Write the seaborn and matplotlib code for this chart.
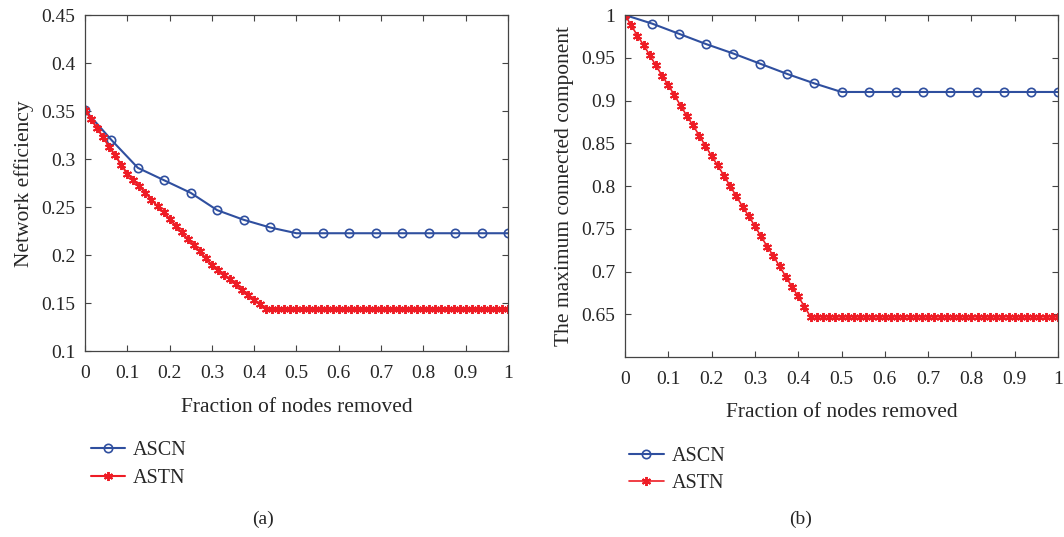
import numpy as np
import matplotlib
matplotlib.use("Agg")
import matplotlib.pyplot as plt
import seaborn as sns

# removal fractions
frac_ascn = np.linspace(0, 1, 17)
frac_astn = np.linspace(0, 1, 71)

# (a) network efficiency
eff_ascn = [0.351, 0.320, 0.291, 0.278, 0.265, 0.247, 0.237, 0.229, 0.223,
            0.223, 0.223, 0.223, 0.223, 0.223, 0.223, 0.223, 0.223]
eff_astn = [0.351, 0.342, 0.332, 0.323, 0.313, 0.304, 0.294, 0.285, 0.278, 0.272,
            0.265, 0.258, 0.251, 0.245, 0.238, 0.231, 0.224, 0.217, 0.211, 0.204,
            0.197, 0.190, 0.185, 0.180, 0.175, 0.170, 0.164, 0.159, 0.154, 0.149,
            0.144, 0.144, 0.144, 0.144, 0.144, 0.144, 0.144, 0.144, 0.144, 0.144,
            0.144, 0.144, 0.144, 0.144, 0.144, 0.144, 0.144, 0.144, 0.144, 0.144,
            0.144, 0.144, 0.144, 0.144, 0.144, 0.144, 0.144, 0.144, 0.144, 0.144,
            0.144, 0.144, 0.144, 0.144, 0.144, 0.144, 0.144, 0.144, 0.144, 0.144,
            0.144]

# (b) maximum connected component
mcc_ascn = [1.000, 0.990, 0.978, 0.966, 0.955, 0.943, 0.931, 0.920, 0.910,
            0.910, 0.910, 0.910, 0.910, 0.910, 0.910, 0.910, 0.910]
mcc_astn = [1.000, 0.988, 0.976, 0.965, 0.953, 0.941, 0.929, 0.918, 0.906, 0.894,
            0.882, 0.871, 0.859, 0.847, 0.835, 0.824, 0.812, 0.800, 0.788, 0.776,
            0.765, 0.753, 0.741, 0.729, 0.718, 0.706, 0.694, 0.682, 0.671, 0.659,
            0.647, 0.647, 0.647, 0.647, 0.647, 0.647, 0.647, 0.647, 0.647, 0.647,
            0.647, 0.647, 0.647, 0.647, 0.647, 0.647, 0.647, 0.647, 0.647, 0.647,
            0.647, 0.647, 0.647, 0.647, 0.647, 0.647, 0.647, 0.647, 0.647, 0.647,
            0.647, 0.647, 0.647, 0.647, 0.647, 0.647, 0.647, 0.647, 0.647, 0.647,
            0.647]

xticks = [0, 0.1, 0.2, 0.3, 0.4, 0.5, 0.6, 0.7, 0.8, 0.9, 1]
xtick_labels = ["0", "0.1", "0.2", "0.3", "0.4", "0.5", "0.6", "0.7", "0.8", "0.9", "1"]
yticks_a = [0.1, 0.15, 0.2, 0.25, 0.3, 0.35, 0.4, 0.45]
ytick_labels_a = ["0.1", "0.15", "0.2", "0.25", "0.3", "0.35", "0.4", "0.45"]
yticks_b = [0.65, 0.7, 0.75, 0.8, 0.85, 0.9, 0.95, 1]
ytick_labels_b = ["0.65", "0.7", "0.75", "0.8", "0.85", "0.9", "0.95", "1"]

BLUE = "#2f4f9f"
RED = "#ee1c25"
ASTERISK = (6, 2, 0)

sns.set_style("ticks")
plt.rcParams["font.family"] = ["Liberation Serif", "DejaVu Serif"]
plt.rcParams["xtick.direction"] = "in"
plt.rcParams["ytick.direction"] = "in"

fig = plt.figure(figsize=(10.64, 5.37), dpi=100)
ax_a = fig.add_axes([0.0799, 0.3455, 0.3975, 0.6265])
ax_b = fig.add_axes([0.5874, 0.3352, 0.4070, 0.6368])


def draw(ax, y_ascn, y_astn, ylim, yticks, ylabels, ylabel, lw_astn):
    sns.lineplot(x=frac_ascn, y=y_ascn, ax=ax, color=BLUE, lw=1.5,
                 marker="o", markersize=6, markerfacecolor="none",
                 markeredgecolor=BLUE, markeredgewidth=1.2, label="ASCN")
    sns.lineplot(x=frac_astn, y=y_astn, ax=ax, color=RED, lw=lw_astn,
                 marker=ASTERISK, markersize=6.5, markeredgecolor=RED,
                 markeredgewidth=1.4, label="ASTN")
    ax.set_xlim(0, 1)
    ax.set_ylim(*ylim)
    ax.set_xticks(xticks)
    ax.set_xticklabels(xtick_labels, fontsize=14)
    ax.set_yticks(yticks)
    ax.set_yticklabels(ylabels, fontsize=14)
    ax.tick_params(top=True, right=True, length=4, width=0.8, color="#444444")
    ax.tick_params(axis="x", pad=10)
    ax.tick_params(axis="y", pad=7)
    for s in ax.spines.values():
        s.set_visible(True)
        s.set_color("#444444")
        s.set_linewidth(0.9)
    ax.set_xlabel("Fraction of nodes removed", fontsize=15.5, labelpad=11)
    ax.set_ylabel(ylabel, fontsize=15.5, labelpad=5)
    ax.legend_.remove()


draw(ax_a, eff_ascn, eff_astn, (0.1, 0.45), yticks_a, ytick_labels_a,
     "Network efficiency", 1.5)
draw(ax_b, mcc_ascn, mcc_astn, (0.6, 1.0), yticks_b, ytick_labels_b,
     "The maximum connected component", 1.2)

h, l = ax_a.get_legend_handles_labels()
fig.legend(h, l, loc="upper left", bbox_to_anchor=(0.0684, 0.213), frameon=False,
           fontsize=14.5, handlelength=1.7, handletextpad=0.4, labelspacing=0.45)
h, l = ax_b.get_legend_handles_labels()
fig.legend(h, l, loc="upper left", bbox_to_anchor=(0.5744, 0.202), frameon=False,
           fontsize=14.5, handlelength=1.7, handletextpad=0.4, labelspacing=0.4)

fig.text(0.247, 0.032, "(a)", fontsize=14, ha="center", va="center")
fig.text(0.752, 0.032, "(b)", fontsize=14, ha="center", va="center")

fig.savefig("out.png", dpi=100)
